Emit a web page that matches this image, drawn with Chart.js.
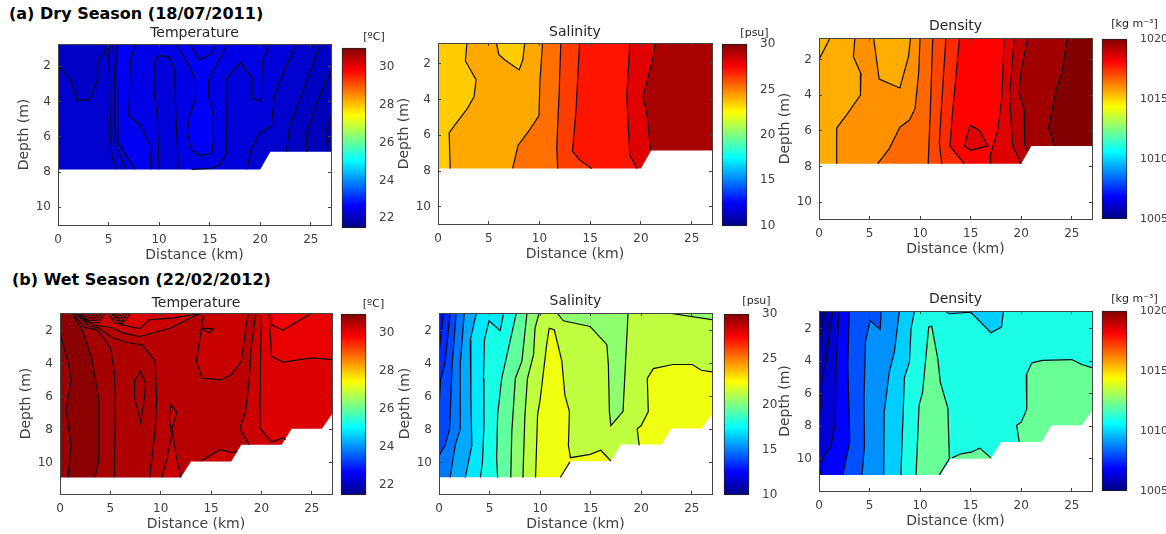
<!DOCTYPE html>
<html>
<head>
<meta charset="utf-8">
<title>Dry and wet season sections</title>
<script src="https://cdn.jsdelivr.net/npm/chart.js@4"></script>
<style>
    html, body { margin: 0; padding: 0; background: #fff; overflow: hidden; width: 1166px; height: 534px; }
    canvas { position: absolute; }
    .season { position: absolute; font: bold 16px "DejaVu Sans", sans-serif; color: #000; white-space: nowrap; line-height: 18px; }
</style>
</head>
<body>
<div class="season" style="left:9px;top:5px">(a) Dry Season (18/07/2011)</div>
<div class="season" style="left:12px;top:271px">(b) Wet Season (22/02/2012)</div>
<script>
// --- axis ticks ---
const distanceTicks = [0, 5, 10, 15, 20, 25];
const depthTicks = [2, 4, 6, 8, 10];
const tempBarTicks = [22, 24, 26, 28, 30];
const salinityBarTicks = [10, 15, 20, 25, 30];
const densityBarTicks = [1005, 1010, 1015, 1020];

// --- colour ranges of the colorbars ---
const tempRange = [21.5, 31];
const salinityRange = [10, 30];
const densityRange = [1005, 1020];

// --- depth limits and sea bed outline, [km, m] ---
const dryTempDepth = [0.75, 11];
const drySalinityDepth = [0.85, 10.95];
const dryDensityDepth = [0.8, 10.95];
const wetTempDepth = [0.93, 11.88];
const wetSalinityDepth = [0.93, 11.9];
const wetDensityDepth = [0.91, 11.99];
const drySeabed = [[0, 7.85], [20, 7.85], [21, 6.85], [27, 6.85]];
const wetSeabed = [[0, 10.88], [12, 10.88], [13, 9.92], [17, 9.92], [18, 8.9], [22, 8.9], [23, 7.93], [26, 7.93], [27, 7.05]];
const wetDensitySeabed = [[0, 11], [12, 11], [13, 10], [17, 10], [18, 8.97], [22, 8.97], [23, 7.95], [26, 7.95], [27, 7.07]];

// --- contour lines, [km, m] ---
const dryTempContours = [
    [[0, 2], [1.15, 2.65], [1.9, 3.95], [3.1, 3.9], [3.95, 2.75], [3.95, 1.75], [5, 0.85], [5, 0.75]],
    [[5, 0.75], [5.1, 3], [5.2, 6], [5.35, 7.2], [5.85, 7.85]],
    [[5.45, 0.75], [5.6, 3], [5.65, 6.3], [6.7, 7.85]],
    [[5.8, 0.75], [5.9, 3], [5.95, 6.3], [6.75, 7.1], [7.6, 7.85]],
    [[7.6, 0.75], [7.15, 1.8], [7, 4.8], [8.1, 5.35], [9.05, 6.45], [9.2, 7.85]],
    [[10, 7.85], [9.8, 4.8], [9.5, 3.5], [9.5, 1.8], [10, 1.4], [11.05, 1.5], [11.55, 2.3], [11.6, 3.9], [11.9, 7.85]],
    [[11.7, 0.75], [13, 2], [13.6, 2.75], [13.6, 3.85], [13.05, 4.8], [12.8, 5.7], [13.2, 6.75], [14, 7.05], [15.2, 6.95], [15.35, 6.3], [15.35, 4.8], [14.9, 3.7], [14.9, 2.75], [16.7, 0.75]],
    [[13, 0.75], [14, 1.65], [15.2, 1.3], [15.7, 0.75]],
    [[20.85, 0.75], [20.2, 1.8], [20.1, 3.98], [19.2, 3.83], [19.2, 2.65], [18.05, 1.8], [16.6, 2.75], [16.65, 6.9], [16, 7.6], [15, 7.8], [13.2, 7.85]],
    [[23.6, 0.75], [22.4, 2.2], [21.4, 3.7], [21.1, 5.4], [19.8, 5.85], [19.1, 6.7], [18.7, 7.85]],
    [[25.9, 0.75], [24.4, 3.15], [22.9, 5.4], [22.6, 6.85]],
    [[27, 2.3], [25.7, 3.9], [24.6, 5.7], [24.6, 6.85]],
    [[27, 4.9], [26.45, 5.8], [26.7, 6.85]]
];
const drySalinityContours = [
    [[2.85, 0.85], [2.7, 1.85], [3.75, 2.9], [3.55, 3.85], [2.9, 4.5], [1.1, 5.85], [1.2, 7.85]],
    [[5.75, 0.85], [6, 1.5], [6.6, 1.8], [8, 2.35], [8.35, 1.8], [8.55, 0.85]],
    [[10.3, 0.85], [10.05, 2.95], [9.95, 4.9], [8.9, 5.8], [7.9, 6.55], [7.35, 7.85]],
    [[12.1, 0.85], [11.95, 3.5], [11.7, 6.65], [11.8, 7.85]],
    [[13.95, 0.85], [13.6, 4.6], [13.25, 6.9], [14, 7.4], [15.15, 7.85]],
    [[18.9, 0.85], [18.6, 3.85], [18.9, 7.1], [19.6, 7.85]],
    [[21.4, 0.85], [21.15, 1.8], [20.2, 3.85], [20.6, 4.9], [20.95, 6.85]]
];
const dryDensityContours = [
    [[0, 2], [1.1, 0.8]],
    [[3.55, 0.8], [3.4, 1.85], [4.15, 2.8], [4.1, 4], [2.75, 5.1], [1.75, 5.85], [1.75, 7.85]],
    [[5.4, 0.8], [5.95, 3.1], [8, 3.6], [8.85, 1.85], [9.05, 0.8]],
    [[10, 0.8], [9.85, 2.8], [9.5, 4.75], [8.95, 5.4], [8, 5.8], [6.95, 7], [5.8, 7.85]],
    [[11.25, 0.8], [11, 5], [10.8, 7.85]],
    [[12.55, 0.8], [12.15, 4.3], [11.9, 6.7], [12.15, 7.85]],
    [[13.9, 0.8], [13.2, 5], [12.95, 6.85], [14.35, 7.85]],
    [[18.3, 0.8], [18.1, 4.1], [17.65, 6.05], [17, 7.25], [16.95, 7.85]],
    [[15, 5.7], [15.9, 6], [16.7, 6.85], [15, 7.1], [14.4, 6.85], [14.7, 6.15], [15, 5.7]],
    [[19.3, 0.8], [18.85, 4.1], [19.15, 6.85], [20, 7.85]],
    [[20.65, 0.8], [20, 2.6], [19.8, 3.9], [20.3, 4.85], [20.35, 6.85], [20.6, 7.1]],
    [[24.55, 0.8], [24.05, 2.7], [23.45, 3.7], [22.7, 5.85], [23.3, 6.85]]
];
const wetTempContours = [
    [[0, 2.15], [0.85, 4.05], [1.1, 5], [0.6, 6.8], [1.1, 8.9], [0.8, 10.88]],
    [[1.2, 0.93], [2.2, 1.95], [3.15, 3.65], [3.85, 6.1], [3.85, 9.95], [3.45, 10.88]],
    [[1.2, 0.93], [2.5, 1.82], [3.7, 1.95], [5, 3.03], [5.4, 4.5], [5.5, 6.1], [5.4, 10.88]],
    [[1.5, 0.93], [2.8, 1.7], [3.8, 1.82], [5.2, 2.43], [6.75, 2.73], [8.15, 2.85], [9.45, 3.85], [9.6, 6.1], [9.45, 8.1], [8.9, 10.88]],
    [[7.4, 5], [8, 4.45], [8.5, 5.2], [8.4, 6], [8, 7.55], [7.4, 6], [7.4, 5]],
    [[10.1, 10.88], [10.6, 9.84], [11.1, 8.3], [10.85, 7.3], [11, 6.5], [11.6, 6.94], [11.1, 7.9], [11.5, 9.5], [12, 10.88]],
    [[1.8, 0.93], [3.2, 1.64], [5.2, 1.82], [6.2, 2.13], [7.9, 2.35], [10.9, 1.85], [13.55, 1.05], [14.2, 0.93]],
    [[14.2, 1.13], [14.05, 1.85], [13.55, 3.85], [14.1, 4.87], [15.9, 4.98], [17, 4.67], [18, 3.85], [18.45, 1.85], [18.7, 0.93]],
    [[5.3, 0.93], [6.15, 1.64], [7.9, 1.88], [8.9, 1.33], [11.25, 1.23], [13.55, 0.99], [13.9, 0.93]],
    [[14.05, 1.85], [15.2, 1.9], [14.8, 2.12], [14.25, 1.95], [14.05, 1.85]],
    [[19.45, 0.93], [19, 2.95], [18.8, 4.87], [18.45, 6.9], [17.85, 7.9], [18.75, 8.9]],
    [[20, 0.93], [19.9, 4.05], [19.85, 7.9], [21, 8.72], [22.15, 8.48], [22.4, 8.6]],
    [[20.75, 0.93], [21, 3.55], [22.1, 3.9], [25, 3.65], [27, 3.75]],
    [[21, 0.93], [21, 1.63], [22.1, 1.98], [25, 0.93]],
    [[14.05, 9.85], [15.9, 9.2], [17, 9.37], [17.6, 9.33]],
    [[1.5, 0.93], [2.83, 1.52], [3.82, 1.52], [4.5, 0.93]],
    [[1.85, 0.93], [2.83, 1.38], [3.65, 1.38], [4.15, 0.93]],
    [[2.15, 0.93], [2.9, 1.23], [3.5, 1.23], [3.85, 0.93]],
    [[2.5, 0.93], [3, 1.08], [3.3, 1.08], [3.5, 0.93]],
    [[4.8, 0.93], [5.4, 1.52], [6.15, 1.62], [7, 0.93]],
    [[5.15, 0.93], [5.55, 1.38], [6.15, 1.42], [6.7, 0.93]],
    [[5.4, 0.93], [5.7, 1.23], [6.1, 1.23], [6.45, 0.93]],
    [[5.6, 0.93], [5.85, 1.08], [6.05, 1.08], [6.2, 0.93]]
];
const wetSalinityContours = [
    [[0.45, 0.93], [0, 3.3]],
    [[1.1, 0.93], [0.6, 3.95], [0.15, 5], [0, 6.7]],
    [[1.7, 0.93], [1.3, 4.05], [1.05, 7.95], [0.6, 8.95], [0, 9.6]],
    [[2.5, 0.93], [2.1, 4.05], [2.1, 7.95], [1.6, 8.95], [1.1, 10.9]],
    [[3.7, 0.93], [3.1, 2.55], [3.15, 6.1], [3.25, 8.95], [2.6, 10.9]],
    [[6.4, 0.93], [6.05, 2], [4.95, 1.4], [4.5, 2.55], [4.4, 4.9], [4.45, 7.75], [4.3, 9.95], [4.1, 10.9]],
    [[7.65, 0.93], [6.2, 4.9], [5.8, 7.1], [5.7, 9.75], [5.8, 10.9]],
    [[8.7, 0.93], [8.2, 3.85], [7.55, 4.9], [7.2, 8.15], [7.1, 10.9]],
    [[9.9, 0.93], [9.5, 1.85], [9.35, 3.45], [8.75, 4.9], [8.5, 7.1], [8.3, 10.9]],
    [[9.55, 10.9], [9.75, 7.1], [10, 6.2], [10.65, 2.85], [10.9, 1.85], [11.4, 1.95], [12.15, 3.85], [12.45, 5.9], [12.9, 6.9], [12.8, 8.95], [13, 9.7], [14.95, 9.5], [16, 9.25], [17, 9.9]],
    [[11.75, 0.98], [12.3, 1.4], [14.95, 1.75], [16.6, 2.85], [16.75, 4.05], [16.85, 6.9], [17, 7.75], [18.2, 6.9], [18.7, 0.93]],
    [[27, 4.5], [25.95, 4.4], [25.05, 4.05], [23.15, 4.05], [21.2, 4.3], [20.6, 4.9], [20.7, 6.9], [20, 7.75], [19.6, 7.95], [19.8, 8.95]],
    [[22.65, 0.93], [27, 1.33]],
    [[12, 10.9], [12.95, 9.95]]
];
const wetDensityContours = [
    [[0.6, 0.91], [0, 2.7]],
    [[1.35, 0.91], [0.7, 4.05], [0.35, 4.85], [0.15, 6.3], [0, 8.15]],
    [[2, 0.91], [1.7, 4.25], [1.6, 7.95], [1.2, 9.2], [0.35, 10], [0.15, 11]],
    [[3, 0.91], [2.85, 4.25], [3.05, 8.95], [2.35, 11]],
    [[6.15, 0.91], [6.05, 2.05], [5.05, 1.5], [4.6, 2.8], [4.45, 6.3], [4.5, 9.2], [4.25, 11]],
    [[7.95, 0.91], [7.45, 3.45], [6.95, 4.65], [6.45, 7.15], [6.4, 11]],
    [[9.45, 0.91], [9.1, 2], [8.95, 4.05], [8.45, 5], [8.1, 11]],
    [[12.45, 0.91], [12.9, 1.08], [15, 0.98], [17, 2.25], [18.05, 1.9], [18.25, 0.91]],
    [[9.6, 11], [9.9, 6.7], [10.25, 5.9], [10.85, 1.9], [11.15, 1.85], [11.75, 3.85], [12, 5.3], [12.75, 6.9], [12.8, 8.15], [12.9, 10], [11.9, 11]],
    [[13.15, 9.95], [14.05, 9.7], [15.05, 9.6], [15.9, 9.35], [17, 9.95]],
    [[27, 4.4], [26, 4.2], [25, 3.9], [22.1, 3.95], [21.05, 4.1], [20.5, 4.85], [20.55, 6.95], [20, 7.75], [19.55, 7.95], [19.8, 8.97]]
];

// --- filled bands, painted in order: [value of the band, contour index, how it closes] ---
const dryTempBands = [[22.24, null, 'all'], [22.15, 0, 'top'], [22.32, 1, 'right'], [22.42, 2, 'right'], [22.58, 3, 'right'], [22.45, 4, 'right'], [22.34, 5, 'self'], [22.65, 6, 'self'], [22.55, 7, 'self'], [22.33, 8, 'right'], [22.22, 9, 'right'], [22.12, 10, 'right'], [22.02, 11, 'right'], [21.93, 12, 'right']];
const drySalinityBands = [[23.5, null, 'all'], [24.2, 0, 'right'], [23.5, 1, 'self'], [25.3, 2, 'right'], [26.3, 3, 'right'], [27.1, 4, 'right'], [28.1, 5, 'right'], [29.2, 6, 'right']];
const dryDensityBands = [[1015.6, null, 'all'], [1015.4, 0, 'top'], [1016, 1, 'right'], [1015.6, 2, 'self'], [1016.6, 3, 'right'], [1017.1, 4, 'right'], [1017.5, 5, 'right'], [1018.1, 6, 'right'], [1018.6, 7, 'right'], [1018.6, 8, 'self'], [1019.05, 9, 'right'], [1019.5, 10, 'right'], [1019.95, 11, 'right']];
const wetTempBands = [[30.74, null, 'all'], [30.9, 0, 'right'], [30.64, 1, 'right'], [30.57, 2, 'right'], [30.47, 3, 'right'], [30.57, 4, 'self'], [30.29, 5, 'self'], [30.33, 6, 'self'], [30.33, 7, 'self'], [30.17, 8, 'self'], [30.13, 9, 'self'], [30.29, 10, 'right'], [30.13, 11, 'right'], [30.03, 12, 'top'], [29.92, 13, 'self'], [30.29, 14, 'bottom']];
const wetSalinityBands = [[12.8, null, 'all'], [13.3, 0, 'right'], [13.9, 1, 'right'], [14.85, 2, 'right'], [15.8, 3, 'right'], [17.05, 4, 'right'], [17.97, 5, 'right'], [19.4, 6, 'right'], [20.3, 7, 'right'], [21.26, 8, 'right'], [22.2, 9, 'bottom'], [20.3, 10, 'self'], [22.2, 11, 'right'], [20.3, 12, 'top']];
const wetDensityBands = [[1005.2, null, 'all'], [1005.7, 0, 'right'], [1006.2, 1, 'right'], [1006.9, 2, 'right'], [1008.05, 3, 'right'], [1009, 4, 'right'], [1009.9, 5, 'right'], [1011, 6, 'right'], [1009.9, 7, 'self'], [1012.15, 8, 'self'], [1012.15, 9, 'bottom'], [1012.15, 10, 'right']];

// MATLAB jet colour map
const jetStops = [[0, [0, 0, 132]], [0.125, [0, 0, 255]], [0.375, [0, 255, 255]], [0.625, [255, 255, 0]], [0.875, [255, 0, 0]], [1, [128, 0, 0]]];

function jet(t) {
    t = Math.min(1, Math.max(0, t));
    for (var i = 1; i < jetStops.length; i++) {
        if (t <= jetStops[i][0]) {
            var a = jetStops[i - 1], b = jetStops[i];
            var k = (t - a[0]) / (b[0] - a[0]);
            var c = a[1].map(function(v, n) { return Math.round(v + (b[1][n] - v) * k); });
            return 'rgb(' + c.join(',') + ')';
        }
    }
    return 'rgb(128,0,0)';
}

// closes a contour into a region that can be painted over the earlier ones
function bandOutline(line, mode, depth) {
    var top = depth[0], bottom = 13;
    if (mode === 'all') return [[0, top], [27, top], [27, bottom], [0, bottom]];
    var first = line[0], last = line[line.length - 1];
    if (mode === 'right') return line.concat([[last[0], bottom], [27, bottom], [27, top], [first[0], top]]);
    if (mode === 'top') return line.concat([[last[0], top], [first[0], top]]);
    if (mode === 'bottom') return line.concat([[last[0], bottom], [first[0], bottom]]);
    return line;
}

function toPoints(line) {
    return line.map(function(p) { return { x: p[0], y: p[1] }; });
}

function sectionChart(cfg) {
    var left = 42, head = 18 + cfg.titleGap, foot = 42, rightPad = 14;
    var b = cfg.box;
    var canvas = document.createElement('canvas');
    canvas.width = b[2] - b[0] + left + rightPad;
    canvas.height = b[3] - b[1] + head + foot;
    canvas.style.left = (b[0] - left) + 'px';
    canvas.style.top = (b[1] - head) + 'px';
    document.body.appendChild(canvas);

    var datasets = [];
    cfg.bands.forEach(function(band) {
        var line = band[1] === null ? null : cfg.contours[band[1]];
        datasets.push({
            data: toPoints(bandOutline(line, band[2], cfg.depth)),
            showLine: true, fill: 'shape', borderWidth: 0, pointRadius: 0,
            backgroundColor: jet((band[0] - cfg.range[0]) / (cfg.range[1] - cfg.range[0]))
        });
    });
    // everything under the sea bed is white
    var bed = cfg.seabed.concat([[27, 13], [0, 13]]);
    datasets.push({ data: toPoints(bed), showLine: true, fill: 'shape', borderWidth: 0, pointRadius: 0, backgroundColor: '#fff' });
    cfg.contours.forEach(function(line) {
        datasets.push({ data: toPoints(line), showLine: true, fill: false, borderColor: '#0c0c14', borderWidth: 1.2, pointRadius: 0 });
    });
    // chart.js paints the highest order first
    datasets.forEach(function(d, i) { d.order = datasets.length - i; });

    var lineStyle = { drawOnChartArea: false, color: '#444', tickLength: -3, z: 2 };
    var edge = { color: '#444', width: 1, z: 2 };
    var labelFont = { family: '"DejaVu Sans"', size: 12 };
    new Chart(canvas, {
        type: 'scatter',
        data: { datasets: datasets },
        options: {
            responsive: false, animation: false, events: [],
            layout: { padding: { right: rightPad } },
            plugins: {
                legend: { display: false },
                tooltip: { enabled: false },
                title: {
                    display: true, text: cfg.title, fullSize: false, color: '#262626',
                    font: { family: '"DejaVu Sans"', size: 14, weight: 'normal', lineHeight: '18px' },
                    padding: { top: 0, bottom: cfg.titleGap }
                }
            },
            scales: {
                x: {
                    type: 'linear', min: 0, max: 27, grid: lineStyle, border: edge,
                    afterBuildTicks: function(s) { s.ticks = distanceTicks.map(function(v) { return { value: v }; }); },
                    afterFit: function(s) { s.height = foot; },
                    ticks: { color: '#404040', font: labelFont, padding: 11, maxRotation: 0, autoSkip: false },
                    title: { display: true, text: 'Distance (km)', color: '#404040', font: { family: '"DejaVu Sans"', size: 14, lineHeight: '16px' }, padding: { top: 0, bottom: 4 } }
                },
                y: {
                    type: 'linear', reverse: true, min: cfg.depth[0], max: cfg.depth[1], grid: lineStyle, border: edge,
                    afterBuildTicks: function(s) { s.ticks = depthTicks.map(function(v) { return { value: v }; }); },
                    afterFit: function(s) { s.width = left; },
                    ticks: { color: '#404040', font: labelFont, padding: 10, autoSkip: false },
                    title: { display: true, text: 'Depth (m)', color: '#404040', font: { family: '"DejaVu Sans"', size: 14, lineHeight: '16px' }, padding: 0 }
                },
                x2: {
                    axis: 'x', type: 'linear', position: 'top', min: 0, max: 27, grid: lineStyle, border: edge,
                    afterBuildTicks: function(s) { s.ticks = distanceTicks.map(function(v) { return { value: v }; }); },
                    afterFit: function(s) { s.height = 0; },
                    ticks: { display: false }
                },
                y2: {
                    axis: 'y', type: 'linear', position: 'right', reverse: true, min: cfg.depth[0], max: cfg.depth[1], grid: lineStyle, border: edge,
                    afterBuildTicks: function(s) { s.ticks = depthTicks.map(function(v) { return { value: v }; }); },
                    afterFit: function(s) { s.width = 0; },
                    ticks: { display: false }
                }
            }
        }
    });
}

function colorbarChart(cfg) {
    // same room on both sides, so the full width title sits over the bar
    var side = 40, head = 18 + cfg.titleGap, foot = 12;
    var b = cfg.box;
    var canvas = document.createElement('canvas');
    canvas.width = b[2] - b[0] + side * 2;
    canvas.height = b[3] - b[1] + head + foot;
    canvas.style.left = (b[0] - side) + 'px';
    canvas.style.top = (b[1] - head) + 'px';
    document.body.appendChild(canvas);

    new Chart(canvas, {
        type: 'bar',
        data: {
            labels: [cfg.unit],
            datasets: [{
                data: [cfg.range],
                barPercentage: 1, categoryPercentage: 1, clip: false,
                borderColor: '#222', borderWidth: 1, borderSkipped: false,
                backgroundColor: function(c) {
                    var area = c.chart.chartArea;
                    if (!area) return '#000';
                    var g = c.chart.ctx.createLinearGradient(0, area.bottom, 0, area.top);
                    jetStops.forEach(function(s) { g.addColorStop(s[0], 'rgb(' + s[1].join(',') + ')'); });
                    return g;
                }
            }]
        },
        options: {
            responsive: false, animation: false, events: [],
            layout: { padding: { left: side, bottom: foot } },
            plugins: {
                legend: { display: false },
                tooltip: { enabled: false },
                title: {
                    display: true, text: cfg.unit, color: '#262626',
                    font: { family: '"DejaVu Sans"', size: 11, weight: 'normal', lineHeight: '18px' },
                    padding: { top: 0, bottom: cfg.titleGap }
                }
            },
            scales: {
                x: { display: false },
                y: {
                    position: 'right', min: cfg.range[0], max: cfg.range[1],
                    grid: { display: false }, border: { display: false },
                    afterBuildTicks: function(s) { s.ticks = cfg.ticks.map(function(v) { return { value: v }; }); },
                    afterFit: function(s) { s.width = side; },
                    ticks: {
                        color: '#404040', font: { family: '"DejaVu Sans"', size: cfg.tickSize || 12 }, padding: 5, autoSkip: false,
                        callback: function(v) { return String(v); }
                    }
                }
            }
        }
    });
}

sectionChart({ title: 'Temperature', box: [58, 44, 331, 225], titleGap: 2, contours: dryTempContours, bands: dryTempBands, depth: dryTempDepth, seabed: drySeabed, range: tempRange });
sectionChart({ title: 'Salinity', box: [438, 43, 712, 224], titleGap: 2, contours: drySalinityContours, bands: drySalinityBands, depth: drySalinityDepth, seabed: drySeabed, range: salinityRange });
sectionChart({ title: 'Density', box: [819, 38, 1092, 219], titleGap: 3, contours: dryDensityContours, bands: dryDensityBands, depth: dryDensityDepth, seabed: drySeabed, range: densityRange });
sectionChart({ title: 'Temperature', box: [60, 313, 332, 494], titleGap: 1, contours: wetTempContours, bands: wetTempBands, depth: wetTempDepth, seabed: wetSeabed, range: tempRange });
sectionChart({ title: 'Salinity', box: [439, 313, 712, 494], titleGap: 3, contours: wetSalinityContours, bands: wetSalinityBands, depth: wetSalinityDepth, seabed: wetSeabed, range: salinityRange });
sectionChart({ title: 'Density', box: [819, 311, 1092, 491], titleGap: 3, contours: wetDensityContours, bands: wetDensityBands, depth: wetDensityDepth, seabed: wetDensitySeabed, range: densityRange });

colorbarChart({ unit: '[ºC]', box: [342, 48, 366, 228], titleGap: 2, range: tempRange, ticks: tempBarTicks });
colorbarChart({ unit: '[psu]', box: [722, 44, 747, 226], titleGap: 2, range: salinityRange, ticks: salinityBarTicks });
colorbarChart({ unit: '[kg m⁻³]', box: [1102, 39, 1127, 219], titleGap: 6, range: densityRange, ticks: densityBarTicks, tickSize: 11 });
colorbarChart({ unit: '[ºC]', box: [341, 314, 366, 495], titleGap: 1, range: tempRange, ticks: tempBarTicks });
colorbarChart({ unit: '[psu]', box: [724, 314, 749, 495], titleGap: 4, range: salinityRange, ticks: salinityBarTicks });
colorbarChart({ unit: '[kg m⁻³]', box: [1102, 311, 1127, 491], titleGap: 3, range: densityRange, ticks: densityBarTicks, tickSize: 11 });
</script>
</body>
</html>
